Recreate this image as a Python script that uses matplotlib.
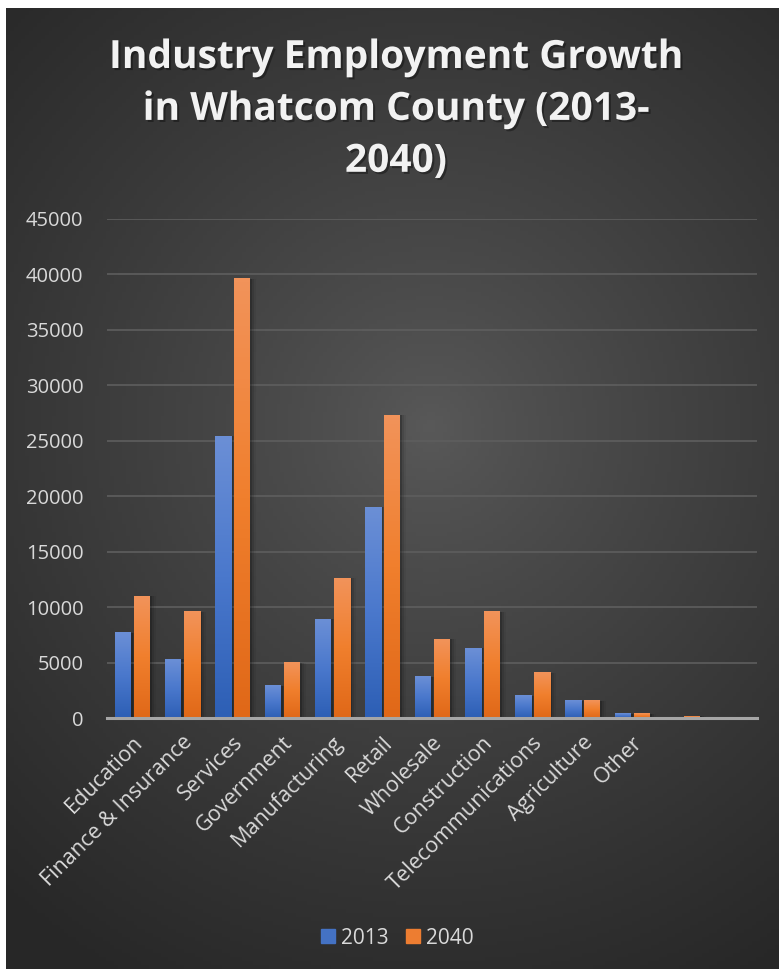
import matplotlib
matplotlib.use('Agg')
import matplotlib.pyplot as plt
import matplotlib.patheffects as pe
from matplotlib.colors import LinearSegmentedColormap
from matplotlib.patches import Patch, Rectangle
import numpy as np

industries = ['Education', 'Finance & Insurance', 'Services', 'Government', 'Manufacturing',
              'Retail', 'Wholesale', 'Construction', 'Telecommunications', 'Agriculture',
              'Other', '', '']
jobs_2013 = [7700, 5300, 25400, 2900, 8900, 19000, 3700, 6300, 2000, 1550, 400, 0, 0]
jobs_2040 = [11000, 9600, 39600, 5000, 12600, 27300, 7100, 9600, 4100, 1550, 400, 150, 0]
series_names = ['2013', '2040']
yticks = [0, 5000, 10000, 15000, 20000, 25000, 30000, 35000, 40000, 45000]

W, H = 779, 972
fig = plt.figure(figsize=(W / 100, H / 100), dpi=100)
fig.patch.set_facecolor('white')

# dark radial background
bg = fig.add_axes([6 / W, 3 / H, 773 / W, 961 / H])
bg.set_axis_off()
gy, gx = np.mgrid[0:961:240j, 0:773:200j]
d = np.sqrt((gx - 425) ** 2 + (gy - 420) ** 2) / 640
d = np.clip(d, 0, 1)
c_in, c_out = 0x59 / 255, 0x27 / 255
shade = c_in + (c_out - c_in) * d ** 0.85
bg.imshow(np.dstack([shade, shade, shade]), extent=(0, 1, 0, 1), aspect='auto', origin='upper')
bg.set_xlim(0, 1)
bg.set_ylim(0, 1)

ax = fig.add_axes([107 / W, 1 - 718 / H, 650 / W, 499 / H])
ax.set_facecolor('none')

x = np.arange(len(industries))
w = 0.32
off = 0.19

blue_cmap = LinearSegmentedColormap.from_list('b', ['#2d5fb5', '#4a78cc', '#6b8fd6'])
orange_cmap = LinearSegmentedColormap.from_list('o', ['#e06818', '#f07f2d', '#f2935a'])

bars1 = ax.bar(x - off, jobs_2013, w, color='#4472c4', zorder=3)
bars2 = ax.bar(x + off, jobs_2040, w, color='#ed7d31', zorder=3)

grad = np.linspace(0, 1, 100)[:, None]
for bars, cm in [(bars1, blue_cmap), (bars2, orange_cmap)]:
    for b in bars:
        h = b.get_height()
        if h <= 0:
            continue
        x0 = b.get_x()
        bw = b.get_width()
        # soft shadow
        for k, a in [(0.05, 0.18), (0.09, 0.10), (0.13, 0.05)]:
            ax.add_patch(Rectangle((x0 + k, 0), bw, h, color='black', alpha=a, zorder=2, lw=0))
        ax.imshow(grad, extent=(x0, x0 + bw, 0, h), cmap=cm, aspect='auto',
                  origin='lower', zorder=4)

ax.set_xlim(-0.5, len(industries) - 0.5)
ax.set_ylim(0, 45000)
ax.set_yticks(yticks)
ax.set_yticklabels([str(v) for v in yticks])
ax.grid(axis='y', color='#5e5e5e', linewidth=1.2, zorder=1)
ax.set_axisbelow(True)
for s in ['top', 'right', 'left']:
    ax.spines[s].set_visible(False)
ax.spines['bottom'].set_color('#a6a6a6')
ax.spines['bottom'].set_linewidth(2.2)
ax.spines['bottom'].set_zorder(5)

ax.set_xticks(x)
ax.set_xticklabels(industries, rotation=45, ha='right', va='top', rotation_mode='anchor',
                   fontsize=15.5, color='#d9d9d9', family='Open Sans')
ax.tick_params(axis='x', length=0, pad=10)
ax.tick_params(axis='y', length=0, pad=17, labelsize=14.5, labelcolor='#d9d9d9')
for t in ax.get_yticklabels():
    t.set_family('Open Sans')

fig.text(0.508, 1 - 38 / H, 'Industry Employment Growth\nin Whatcom County (2013-\n2040)',
         ha='center', va='top', fontsize=28, fontweight='bold', color='#f2f2f2',
         family='Open Sans', linespacing=1.43,
         path_effects=[pe.withSimplePatchShadow(offset=(1.5, -1.5), shadow_rgbFace='black', alpha=0.35)])

handles = [Patch(color='#4472c4'), Patch(color='#ed7d31')]
leg = fig.legend(handles, series_names, loc='center', bbox_to_anchor=(0.51, 1 - 938 / H),
                 ncol=2, frameon=False, handlelength=0.67, handleheight=0.67,
                 handletextpad=0.3, columnspacing=0.85,
                 prop={'family': 'Open Sans', 'size': 15})
for t in leg.get_texts():
    t.set_color('#d9d9d9')

fig.savefig('out.png', dpi=100, facecolor=fig.get_facecolor())
